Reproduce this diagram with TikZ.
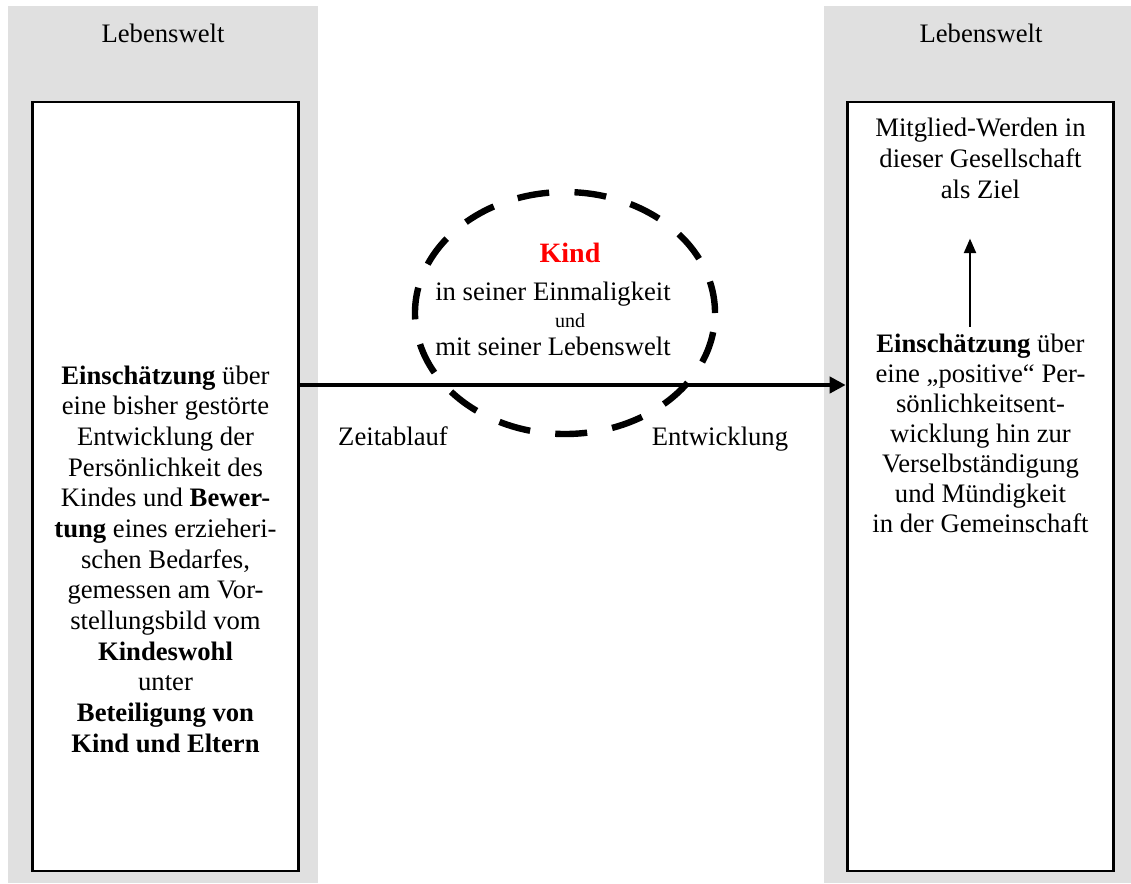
\documentclass[tikz,border=0pt]{standalone}
\usepackage{fontspec}
\setmainfont{Liberation Serif}
\usetikzlibrary{arrows.meta,shapes.geometric}
\definecolor{weltgrau}{RGB}{224,224,224}

\begin{document}
\begin{tikzpicture}[x=0.75pt, y=-0.75pt,
    txt/.style={anchor=base, align=center, inner sep=0pt,
        font=\fontsize{20}{23}\selectfont},
    kasten/.style={draw, line width=2.2pt, fill=white, minimum width=200pt, minimum height=576.75pt}]
    \useasboundingbox (0,0) rectangle (1131,883);

    % Lebenswelt panels
    \fill[weltgrau] (8,6) rectangle (318,883);
    \fill[weltgrau] (824,6) rectangle (1131,883);
    \node[txt] (weltL) at (163,42) {Lebenswelt};
    \node[txt] (weltR) at (981,42) {Lebenswelt};

    % Boxes
    \node[kasten] (links) at (165.5,486.5) {};
    \node[kasten] (rechts) at (980.5,486.5) {};

    % base = last line
    \node[txt] (bedarf) at (165.5,752) {\textbf{Einschätzung} über\\
        eine bisher gestörte\\ Entwicklung der\\ Persönlichkeit des\\
        Kindes und \textbf{Bewer-}\\ \textbf{tung} eines erzieheri-\\
        schen Bedarfes,\\ gemessen am Vor-\\ stellungsbild vom\\
        \textbf{Kindeswohl}\\ unter\\ \textbf{Beteiligung von}\\
        \textbf{Kind und Eltern}};

    \node[txt] (ziel) at (980.5,198) {Mitglied-Werden in\\ dieser Gesellschaft\\ als Ziel};
    \node[txt, font=\fontsize{20}{22.5}\selectfont] (einsch) at (980.5,532) {\textbf{Einschätzung} über\\
        eine „positive“ Per-\\ sönlichkeitsent-\\ wicklung hin zur\\
        Verselbständigung\\ und Mündigkeit\\ in der Gemeinschaft};

    % Kind
    \node[ellipse, draw, line width=4.8pt, dash pattern=on 24pt off 19pt,
        minimum width=225pt, minimum height=181.5pt] (kreis) at (565,313) {};
    \node[txt, font=\fontsize{21}{24}\bfseries, text=red] (kind) at (570,262) {Kind};
    \node[txt] (einmal) at (553,300) {in seiner Einmaligkeit};
    \node[txt, font=\fontsize{15}{18}\selectfont] (und) at (570,327) {und};
    \node[txt] (lwelt) at (553,355) {mit seiner Lebenswelt};

    \node[txt] (zeit) at (393,445) {Zeitablauf};
    \node[txt] (entw) at (720,445) {Entwicklung};

    % Connections
    \coordinate (achse) at (565,385);
    \coordinate (oben) at (970,0);
    \draw[-{Triangle[length=12pt,width=12pt]}, line width=3.6pt]
        (links.east |- achse) -- (rechts.west |- achse);
    \draw[-{Triangle[length=11pt,width=9pt]}, line width=1.8pt, shorten <=5pt, shorten >=30pt]
        (einsch.north -| oben) -- (ziel.south -| oben);
\end{tikzpicture}
\end{document}
